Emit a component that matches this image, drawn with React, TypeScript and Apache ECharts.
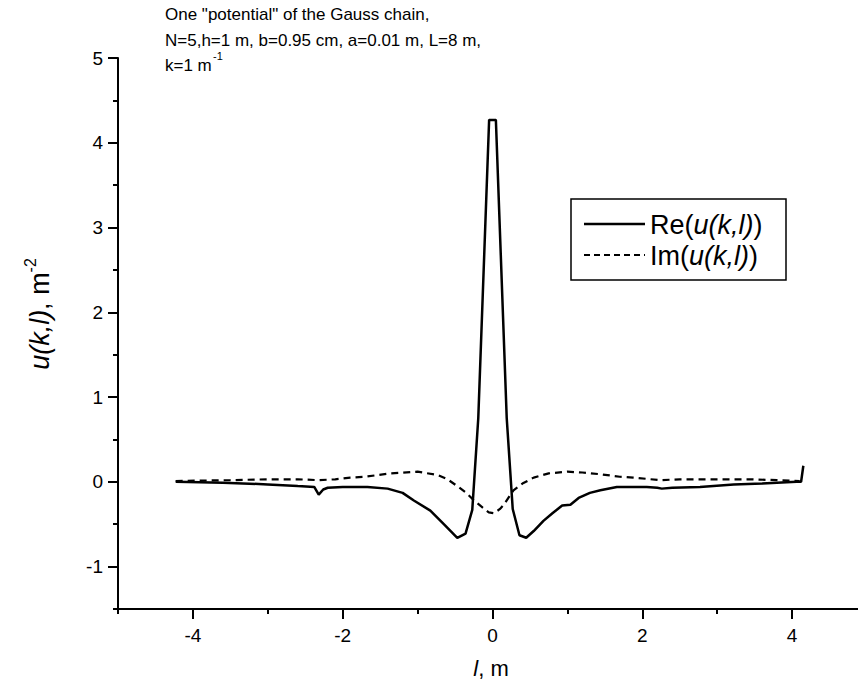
import React, { useEffect, useRef } from "react";
import * as echarts from "echarts";

const reL = [-4.23, -3.6, -3.0, -2.6, -2.38, -2.32, -2.26, -2.2, -2.0, -1.67, -1.4, -1.2, -1.05, -0.83, -0.65, -0.47, -0.36, -0.27, -0.19, -0.045, 0.045, 0.19, 0.27, 0.36, 0.45, 0.55, 0.68, 0.8, 0.93, 1.04, 1.15, 1.3, 1.44, 1.66, 2.06, 2.2, 2.26, 2.4, 2.77, 3.22, 3.6, 4.06, 4.12, 4.15];
const reV = [0.0, -0.01, -0.03, -0.05, -0.06, -0.15, -0.09, -0.07, -0.06, -0.06, -0.08, -0.13, -0.22, -0.34, -0.5, -0.66, -0.61, -0.33, 0.75, 4.27, 4.27, 0.75, -0.32, -0.63, -0.66, -0.58, -0.46, -0.37, -0.28, -0.27, -0.19, -0.13, -0.1, -0.06, -0.06, -0.07, -0.08, -0.07, -0.06, -0.03, -0.02, 0.0, 0.0, 0.19];

const imL = [-4.23, -3.5, -3.0, -2.6, -2.33, -2.1, -1.9, -1.7, -1.36, -1.0, -0.73, -0.6, -0.47, -0.35, -0.27, -0.15, -0.05, 0.02, 0.1, 0.15, 0.28, 0.4, 0.55, 0.75, 1.0, 1.2, 1.44, 1.7, 1.88, 2.24, 2.5, 2.77, 3.44, 3.8, 4.1];
const imV = [0.01, 0.02, 0.03, 0.03, 0.02, 0.03, 0.05, 0.06, 0.1, 0.12, 0.08, 0.03, -0.05, -0.13, -0.2, -0.29, -0.36, -0.37, -0.32, -0.27, -0.1, -0.02, 0.05, 0.1, 0.12, 0.11, 0.09, 0.06, 0.05, 0.02, 0.03, 0.03, 0.03, 0.02, 0.01];

const xMajorTicks = [-4, -2, 0, 2, 4];
const yMajorTicks = [-1, 0, 1, 2, 3, 4, 5];

const titleLines = ['One "potential" of the Gauss chain,', "N=5,h=1 m, b=0.95 cm, a=0.01 m, L=8 m,", "k=1 m", "-1"];
const legendNames = ["Re", "Im"];

const FONT = "'Liberation Sans', Arial, sans-serif";

export default function App() {
  const ref = useRef<HTMLDivElement>(null);
  useEffect(() => {
    if (!ref.current) return;
    const chart = echarts.init(ref.current, null, { renderer: "svg" });
    const reData = reL.map((x, i) => [x, reV[i]]);
    const imData = imL.map((x, i) => [x, imV[i]]);
    const legendRich = {
      n: { fontSize: 27, fontFamily: FONT, fill: "#000" },
      i: { fontSize: 27, fontStyle: "italic", fontFamily: FONT, fill: "#000" },
    };
    chart.setOption({
      animation: false,
      backgroundColor: "#fff",
      grid: { left: 118, top: 58, width: 749, height: 551, containLabel: false, outerBoundsMode: "none" },
      xAxis: [
        {
          type: "value",
          min: -5,
          max: 5,
          interval: 1,
          axisLine: { show: true, onZero: false, lineStyle: { color: "#000", width: 2 } },
          axisTick: { show: true, inside: false, length: 10, lineStyle: { color: "#000", width: 2 }, customValues: xMajorTicks },
          axisLabel: { show: true, customValues: xMajorTicks, color: "#000", fontSize: 19, fontFamily: FONT, margin: 17 },
          splitLine: { show: false },
        },
        {
          type: "value",
          min: -5,
          max: 5,
          interval: 1,
          position: "bottom",
          axisLine: { show: false, onZero: false },
          axisTick: { show: true, length: 5, lineStyle: { color: "#000", width: 2 } },
          axisLabel: { show: false },
          splitLine: { show: false },
        },
      ],
      yAxis: [
        {
          type: "value",
          min: -1.5,
          max: 5,
          interval: 0.5,
          position: "left",
          axisLine: { show: true, onZero: false, lineStyle: { color: "#000", width: 2 } },
          axisTick: { show: true, length: 10, lineStyle: { color: "#000", width: 2 }, customValues: yMajorTicks },
          axisLabel: { show: true, customValues: yMajorTicks, color: "#000", fontSize: 19, fontFamily: FONT, margin: 15 },
          splitLine: { show: false },
        },
        {
          type: "value",
          min: -1.5,
          max: 5,
          interval: 0.5,
          position: "left",
          axisLine: { show: false, onZero: false },
          axisTick: { show: true, length: 5, lineStyle: { color: "#000", width: 2 } },
          axisLabel: { show: false },
          splitLine: { show: false },
        },
      ],
      series: [
        {
          type: "line",
          name: "Re",
          data: reData,
          symbol: "none",
          lineStyle: { color: "#000", width: 2.5, type: "solid" },
          itemStyle: { color: "#000" },
        },
        {
          type: "line",
          name: "Im",
          data: imData,
          symbol: "none",
          lineStyle: { color: "#000", width: 2.2, type: [7, 5] },
          itemStyle: { color: "#000" },
        },
      ],
      graphic: [
        {
          type: "text",
          x: 165,
          y: 14,
          style: { text: titleLines[0], font: `17px ${FONT}`, fill: "#000", verticalAlign: "middle" },
        },
        {
          type: "text",
          x: 165,
          y: 40,
          style: { text: titleLines[1], font: `17px ${FONT}`, fill: "#000", verticalAlign: "middle" },
        },
        {
          type: "text",
          x: 165,
          y: 65,
          style: { text: titleLines[2], font: `17px ${FONT}`, fill: "#000", verticalAlign: "middle" },
        },
        {
          type: "text",
          x: 213,
          y: 56,
          style: { text: titleLines[3], font: `11px ${FONT}`, fill: "#000", verticalAlign: "middle" },
        },
        {
          type: "text",
          x: 38,
          y: 314,
          rotation: Math.PI / 2,
          style: {
            text: "{i|u(k,l)}{n|, m}{s|-2}",
            align: "center",
            verticalAlign: "middle",
            rich: {
              i: { fontSize: 27, fontStyle: "italic", fontFamily: FONT, fill: "#000", lineHeight: 31, verticalAlign: "bottom" },
              n: { fontSize: 27, fontFamily: FONT, fill: "#000", lineHeight: 31, verticalAlign: "bottom" },
              s: { fontSize: 16, fontFamily: FONT, fill: "#000", verticalAlign: "top", lineHeight: 16 },
            },
          },
        },
        {
          type: "text",
          x: 491,
          y: 668,
          style: {
            text: "{i|l}{n|, m}",
            align: "center",
            verticalAlign: "middle",
            rich: {
              i: { fontSize: 22, fontStyle: "italic", fontFamily: FONT, fill: "#000" },
              n: { fontSize: 22, fontFamily: FONT, fill: "#000" },
            },
          },
        },
        {
          type: "rect",
          shape: { x: 571, y: 199, width: 215, height: 81 },
          style: { fill: "#fff", stroke: "#000", lineWidth: 1.5 },
          z: 10,
        },
        {
          type: "line",
          shape: { x1: 584, y1: 224, x2: 645, y2: 224 },
          style: { stroke: "#000", lineWidth: 2.5 },
          z: 11,
        },
        {
          type: "line",
          shape: { x1: 584, y1: 255, x2: 645, y2: 255 },
          style: { stroke: "#000", lineWidth: 2.2, lineDash: [6, 4] },
          z: 11,
        },
        {
          type: "text",
          x: 650,
          y: 225,
          z: 11,
          style: { text: `{n|${legendNames[0]}(}{i|u(k,l)}{n|)}`, verticalAlign: "middle", rich: legendRich },
        },
        {
          type: "text",
          x: 650,
          y: 256,
          z: 11,
          style: { text: `{n|${legendNames[1]}(}{i|u(k,l)}{n|)}`, verticalAlign: "middle", rich: legendRich },
        },
      ],
    });
    return () => chart.dispose();
  }, []);
  return <div ref={ref} style={{ width: 858, height: 698, position: "absolute", left: 0, top: 0 }} />;
}
